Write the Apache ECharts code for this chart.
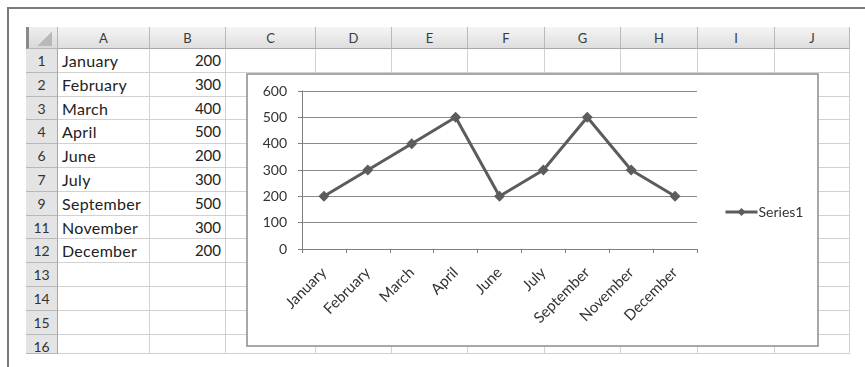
<!DOCTYPE html>
<html><head><meta charset="utf-8">
<script src="https://cdn.jsdelivr.net/npm/echarts@6/dist/echarts.min.js"></script>
<style>
html,body{margin:0;padding:0;background:#fff;}
#wrap{position:relative;width:865px;height:367px;overflow:hidden;background:#fff;font-family:Lato,"Open Sans",sans-serif;}
#frame{position:absolute;left:7px;top:7px;width:870px;height:370px;border-left:2px solid #7a7a7a;border-top:2px solid #7a7a7a;box-sizing:border-box;}
.c{position:absolute;box-sizing:border-box;white-space:nowrap;overflow:hidden;}
#chart{position:absolute;left:0;top:0;width:865px;height:367px;}
</style></head>
<body><div id="wrap"><div id="frame"></div><div id="sheet"></div><div id="chart"></div></div>
<script>
// ---- data ----
const columnLetters = ['A','B','C','D','E','F','G','H','I','J'];
const rowLabels = ['1','2','3','4','6','7','9','11','12','13','14','15','16'];
const categories = ['January','February','March','April','June','July','September','November','December'];
const values = [200,300,400,500,200,300,500,300,200];
const seriesName = 'Series1';
const yMin = 0, yMax = 600, yStep = 100;

// ---- spreadsheet layout ----
const colEdges = [58,150,226,316,392,468,545,621,698,775,850];
const rowHeaderX = 26, headerTop = 27, headerBottom = 49, rowH = 23.8, sheetBottom = 354;
const sheet = document.getElementById('sheet');
function cell(x,y,w,h,css,text){
  const d=document.createElement('div');d.className='c';
  d.style.left=x+'px';d.style.top=y+'px';d.style.width=w+'px';d.style.height=h+'px';
  d.style.cssText+=css; if(text!==undefined) d.textContent=text; sheet.appendChild(d); return d;
}
// corner
cell(rowHeaderX,headerTop,colEdges[0]-rowHeaderX,headerBottom-headerTop,'background:linear-gradient(#efefef,#d9d9d9);border-right:1px solid #b5b5b5;border-bottom:1px solid #b5b5b5;border-left:3px solid #8a8a8a;');
cell(colEdges[0]-20,headerTop+5,14,14,'background:linear-gradient(135deg,transparent 50%,#b8b8b8 50%);');
// column headers
columnLetters.forEach((L,i)=>{
  cell(colEdges[i],headerTop,colEdges[i+1]-colEdges[i],headerBottom-headerTop,
   'background:linear-gradient(#f5f5f5,#dedede);border-right:1px solid #b8b8b8;border-bottom:1px solid #a8a8a8;text-align:center;font-size:13px;line-height:22px;color:#3a3a3a;',L);
});
// rows
rowLabels.forEach((r,j)=>{
  const y=headerBottom+j*rowH;
  const h=Math.min(rowH, sheetBottom-y);
  cell(rowHeaderX,y,colEdges[0]-rowHeaderX,h,'background:#e4e4e4;border-bottom:1px solid #b8b8b8;border-right:1px solid #a8a8a8;text-align:center;font-size:14px;line-height:23px;color:#333;',r);
  for(let i=0;i<columnLetters.length;i++){
    let txt, css='border-right:1px solid #d2d2d2;border-bottom:1px solid #d2d2d2;line-height:23px;color:#222;';
    if(i===0 && j<categories.length){txt=categories[j];css+='padding-left:4px;font-size:16px;letter-spacing:0.3px;';}
    if(i===1 && j<values.length){txt=String(values[j]);css+='text-align:right;padding-right:4px;font-size:15px;';}
    cell(colEdges[i],y,colEdges[i+1]-colEdges[i],h,css,txt);
  }
});

// ---- chart ----
const chart = echarts.init(document.getElementById('chart'),null,{renderer:'canvas'});
const font = 'Lato';
chart.setOption({
  animation:false,
  backgroundColor:'transparent',
  textStyle:{fontFamily:font},
  graphic:[{type:'rect',z:-10,silent:true,shape:{x:247,y:74,width:571,height:272},style:{fill:'#fff',stroke:'#8c8c8c',lineWidth:1.5}}],
  grid:{left:302,top:91,right:168,bottom:118,containLabel:false},
  legend:{
    left:719,top:200,itemWidth:32,itemHeight:10,itemGap:0,
    data:[seriesName],
    lineStyle:{width:3},
    textStyle:{fontFamily:font,fontSize:14,color:'#333',padding:[0,0,0,-4]}
  },
  xAxis:{
    type:'category',data:categories,boundaryGap:true,
    axisLine:{lineStyle:{color:'#7f7f7f',width:1}},
    axisTick:{show:true,length:4,lineStyle:{color:'#7f7f7f'}},
    axisLabel:{interval:0,rotate:45,margin:21,fontSize:15,color:'#333',fontFamily:font},
    splitLine:{show:false}
  },
  yAxis:{
    type:'value',min:yMin,max:yMax,interval:yStep,
    axisLine:{show:true,lineStyle:{color:'#7f7f7f',width:1}},
    axisTick:{show:true,length:4,lineStyle:{color:'#7f7f7f'}},
    axisLabel:{margin:15,fontSize:14,color:'#333',fontFamily:font},
    splitLine:{show:true,lineStyle:{color:'#8a8a8a',width:1}}
  },
  series:[{
    name:seriesName,type:'line',data:values,
    symbol:'diamond',symbolSize:11,showAllSymbol:true,
    lineStyle:{color:'#5c5c5c',width:3},
    itemStyle:{color:'#5c5c5c'}
  }]
});
</script></body></html>
